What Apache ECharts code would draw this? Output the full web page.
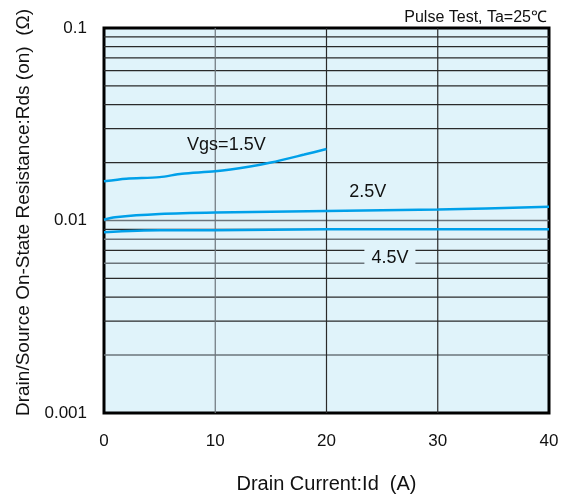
<!DOCTYPE html>
<html>
<head>
<meta charset="utf-8">
<script src="https://cdn.jsdelivr.net/npm/echarts@6/dist/echarts.min.js"></script>
<style>html,body{margin:0;padding:0;background:#fff}#c{width:565px;height:499px}</style>
</head>
<body>
<div id="c"></div>
<script>
// Data
const vgs15 = [[0,0.016],[2,0.0165],[5,0.0168],[7,0.0175],[10,0.018],[13,0.019],[15,0.020],[18,0.022],[20,0.0235]];
const vgs25 = [[0,0.0101],[1,0.0104],[5,0.0108],[10,0.011],[20,0.0112],[30,0.0114],[40,0.0118]];
const vgs45 = [[0,0.0087],[5,0.0089],[10,0.0089],[20,0.009],[40,0.009]];
const xTicks = [0,10,20,30,40];
const yTicks = [0.001,0.01,0.1];
const yGridValues = [0.002,0.003,0.004,0.005,0.006,0.007,0.008,0.009,0.01,0.02,0.03,0.04,0.05,0.06,0.07,0.08,0.09];
const xGridValues = [10,20,30];
const labels = [
  {text:'Vgs=1.5V', coord:[11,0.0248]},
  {text:'2.5V', coord:[23.7,0.01413]},
  {text:'4.5V', coord:[25.7,0.00636], box:true}
];
const title = 'Pulse Test, Ta=25\u2103';

const BG = '#e0f3fa';
const LINE = '#00a0e9';
const FONT = '"Liberation Sans", Arial, Helvetica, sans-serif';
const X_MIN = 0, X_MAX = 40, Y_MIN = 0.001, Y_MAX = 0.1;

const grayLines = [0.006,0.01,0.008,0.002];
const gridSeries = yGridValues.map(v => ({
  type:'line', data:[[X_MIN,v],[X_MAX,v]], symbol:'none', silent:true, z:1,
  lineStyle:{color: grayLines.includes(v)?'#6b747a':'#2a2a2a', width: grayLines.includes(v)?1.5:1.2}
})).concat(xGridValues.map(v => ({
  type:'line', data:[[v,Y_MIN],[v,Y_MAX]], symbol:'none', silent:true, z:1,
  lineStyle:{color: v===10?'#6b747a':'#2a2a2a', width:1.2}
})));

const chart = echarts.init(document.getElementById('c'), null, {renderer:'canvas'});
chart.setOption({
  animation:false,
  textStyle:{fontFamily:FONT},
  title:{text:title, right:13, top:5, textStyle:{fontSize:16, fontWeight:'normal', color:'#111', fontFamily:FONT}},
  grid:{left:104, right:16, top:28, bottom:85, show:true, backgroundColor:BG, borderColor:'#000', borderWidth:3},
  xAxis:{type:'value', min:X_MIN, max:X_MAX, interval:10,
    name:'Drain Current:Id  (A)', nameLocation:'middle', nameGap:61,
    nameTextStyle:{fontSize:20, color:'#111', fontFamily:FONT},
    axisLine:{show:false}, axisTick:{show:false}, splitLine:{show:false},
    axisLabel:{fontSize:17, color:'#111', margin:20, fontFamily:FONT, formatter: v => xTicks.includes(v)?String(v):''}},
  yAxis:{type:'log', logBase:10, min:Y_MIN, max:Y_MAX,
    name:'Drain/Source On-State Resistance:Rds (on)  (\u03A9)', nameLocation:'middle', nameGap:67,
    nameTextStyle:{fontSize:19, color:'#111', fontFamily:FONT, padding:[0,0,0,16]},
    axisLine:{show:false}, axisTick:{show:false}, splitLine:{show:false}, minorTick:{show:false},
    axisLabel:{fontSize:17, color:'#111', margin:17, fontFamily:FONT,
      formatter: v => { const t = yTicks.find(k => Math.abs(k-v)/k < 1e-6); return t===undefined?'':String(t); }}},
  series: gridSeries.concat([
    {type:'line', data:[], silent:true, z:6,
      markPoint:{silent:true, symbol:'rect', symbolSize:0, animation:false,
        data: labels.map(l => ({coord:l.coord, value:l.text,
          label:{show:true, formatter:l.text, position:'inside', fontSize:18, color:'#111', fontFamily:FONT,
            backgroundColor: l.box?BG:'transparent', padding: l.box?[3,7]:0}}))}
    },
    {type:'line', data:vgs15, smooth:0.3, symbol:'none', z:5, lineStyle:{color:LINE, width:2.5}},
    {type:'line', data:vgs25, smooth:0.3, symbol:'none', z:5, lineStyle:{color:LINE, width:2.5}},
    {type:'line', data:vgs45, smooth:0.3, symbol:'none', z:5, lineStyle:{color:LINE, width:2.5}}
  ])
});
</script>
</body>
</html>
